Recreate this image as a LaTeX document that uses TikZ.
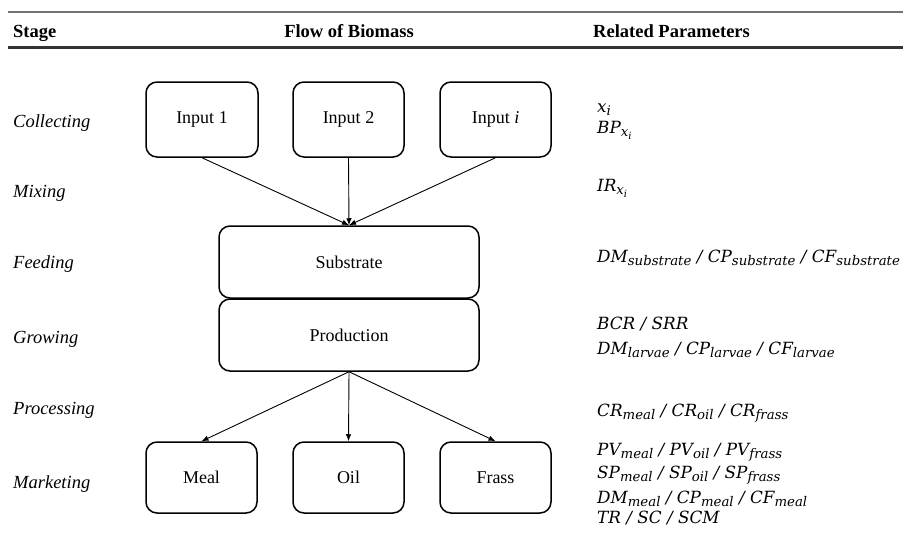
\documentclass[tikz,border=0pt]{standalone}
\usepackage{fontspec}
\setmainfont{Liberation Serif}
\newfontfamily\pfont{DejaVu Serif}[ItalicFont={DejaVu Serif Italic}]
\usetikzlibrary{arrows.meta}
\newcommand\psb[1]{\raisebox{-3.6pt}{\fontsize{13.3}{13.3}\selectfont #1}}
\newcommand\pssb[1]{\raisebox{-2.5pt}{\fontsize{10}{10}\selectfont #1}}
\begin{document}
\begin{tikzpicture}[x=1pt,y=-1pt,
  box/.style={draw,line width=1.5pt,rounded corners=11pt,inner sep=0pt,
    font=\fontsize{18}{22}\selectfont},
  flow/.style={line width=0.9pt,-{Latex[length=7pt,width=5.5pt]}},
  head/.style={font=\fontsize{18.5}{22}\selectfont\bfseries,anchor=base,inner sep=0pt},
  stagelbl/.style={font=\fontsize{18.5}{22}\selectfont\itshape,anchor=base west,inner sep=0pt},
  param/.style={font=\pfont\itshape\fontsize{16.8}{20}\selectfont,anchor=base west,inner sep=0pt}]
\useasboundingbox (0,0) rectangle (903,541);
% rules
\draw[line width=2pt,draw=black!55] (8,12) -- (903,12);
\draw[line width=2.5pt,draw=black!80] (8,47.5) -- (903,47.5);
% header
\node[head,anchor=base west] (hstage) at (13,37) {Stage};
\node[head] (hflow) at (349,37) {Flow of Biomass};
\node[head,anchor=base west] (hpar) at (593,37) {Related Parameters};
% stages
\node[stagelbl] (scol) at (13,127) {Collecting};
\node[stagelbl] (smix) at (13,197) {Mixing};
\node[stagelbl] (sfeed) at (13,268) {Feeding};
\node[stagelbl] (sgrow) at (13,343) {Growing};
\node[stagelbl] (sproc) at (13,414) {Processing};
\node[stagelbl] (smark) at (13,488) {Marketing};
% boxes
\node[box,minimum width=112pt,minimum height=75pt] (in1) at (202,119.5) {Input 1};
\node[box,minimum width=111pt,minimum height=75pt] (in2) at (348.5,119.5) {Input 2};
\node[box,minimum width=111pt,minimum height=75pt] (ini) at (495.5,119.5) {Input \textit{i}};
\node[box,minimum width=260pt,minimum height=72pt] (sub) at (349,262) {Substrate};
\node[box,minimum width=260pt,minimum height=72pt] (prod) at (349,335) {Production};
\node[box,minimum width=111pt,minimum height=71pt] (meal) at (201.5,477.5) {Meal};
\node[box,minimum width=111pt,minimum height=71pt] (oil) at (348.5,477.5) {Oil};
\node[box,minimum width=111pt,minimum height=71pt] (frass) at (495.5,477.5) {Frass};
% arrows
\draw[flow] (in1.south) -- (sub.north);
\draw[flow] (in2.south) -- (sub.north);
\draw[flow] (ini.south) -- (sub.north);
\draw[flow] (prod.south) -- (meal.north);
\draw[flow] (prod.south) -- (oil.north);
\draw[flow] (prod.south) -- (frass.north);
% parameters
\node[param] (p1) at (597,112) {x\psb{i}};
\node[param] (p2) at (597,133) {BP\psb{x\pssb{i}}};
\node[param] (p3) at (597,191) {IR\psb{x\pssb{i}}};
\node[param] (p4) at (597,262) {DM\psb{substrate} / CP\psb{substrate} / CF\psb{substrate}};
\node[param] (p5) at (597,329) {BCR / SRR};
\node[param] (p6) at (597,354) {DM\psb{larvae} / CP\psb{larvae} / CF\psb{larvae}};
\node[param] (p7) at (597,416) {CR\psb{meal} / CR\psb{oil} / CR\psb{frass}};
\node[param] (p8) at (597,455) {PV\psb{meal} / PV\psb{oil} / PV\psb{frass}};
\node[param] (p9) at (597,478) {SP\psb{meal} / SP\psb{oil} / SP\psb{frass}};
\node[param] (p10) at (597,503) {DM\psb{meal} / CP\psb{meal} / CF\psb{meal}};
\node[param] (p11) at (597,523) {TR / SC / SCM};
\end{tikzpicture}
\end{document}
